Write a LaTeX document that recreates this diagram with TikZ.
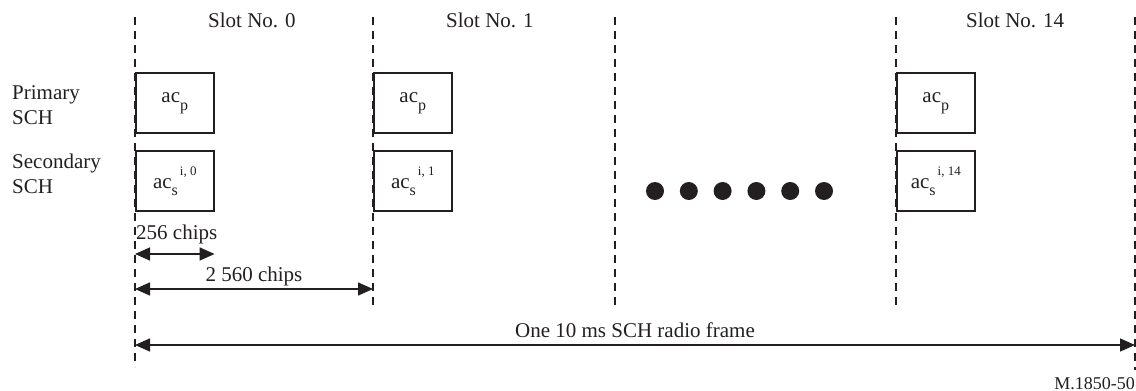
\documentclass[tikz,border=0pt]{standalone}
\usepackage{fontspec}
\setmainfont{Liberation Serif}
\usepackage{tikz}
\usetikzlibrary{arrows.meta,positioning}
\definecolor{ink}{RGB}{35,31,32}
\newcommand{\acp}{ac\raisebox{-8pt}{\fontsize{16}{16}\selectfont p}}
\newcommand{\acs}[1]{ac\raisebox{-7pt}{\fontsize{16}{16}\selectfont s}\hspace{2pt}\raisebox{13pt}{\fontsize{13}{13}\selectfont i, #1}}

\begin{document}
\begin{tikzpicture}[x=1pt,y=-1pt,
  every node/.style={text=ink,font=\fontsize{21}{25}\selectfont,inner sep=0pt},
  slotline/.style={ink,line width=1.3pt,dash pattern=on 8pt off 6pt},
  chbox/.style={draw=ink,line width=1.6pt,minimum width=78pt,minimum height=60pt,anchor=north west},
  dimarrow/.style={ink,line width=1.5pt,{Triangle[length=15pt,width=13pt]}-{Triangle[length=15pt,width=13pt]}}]
  \useasboundingbox (0,0) rectangle (1136,391);

  \coordinate (t0) at (135,17);   \coordinate (b0) at (135,367);
  \coordinate (t1) at (373,17);   \coordinate (b1) at (373,307);
  \coordinate (tm) at (615,17);   \coordinate (bm) at (615,308);
  \coordinate (t14) at (896,17);  \coordinate (b14) at (896,308);
  \coordinate (te) at (1135,17);  \coordinate (be) at (1135,370);
  \draw[slotline] (t0) -- (b0);
  \draw[slotline] (t1) -- (b1);
  \draw[slotline] (tm) -- (bm);
  \draw[slotline] (t14) -- (b14);
  \draw[slotline] (te) -- (be);

  \node[anchor=base west] (n0) at (208,27) {Slot No. 0};
  \node[anchor=base west] (n1) at (446,27) {Slot No. 1};
  \node[anchor=base west] (n14) at (966,27) {Slot No. 14};

  \node[anchor=north west,align=left] (prim) at (12,85) {Primary\\SCH};
  \node[anchor=north west,align=left] (sec) at (12,154) {Secondary\\SCH};

  \node[chbox] (p0) at (135,72) {\acp};
  \node[chbox] (s0) at (135,150) {\acs{0}};
  \node[chbox] (p1) at (373,72) {\acp};
  \node[chbox] (s1) at (373,150) {\acs{1}};
  \node[chbox] (p14) at (896,72) {\acp};
  \node[chbox] (s14) at (896,150) {\acs{14}};

  \foreach \i in {0,...,5}
    \fill[ink] (655+33.8*\i,191) circle (9pt);

  \coordinate (c256) at (135,254);
  \coordinate (c2560) at (135,289);
  \coordinate (cframe) at (135,345);
  \draw[dimarrow] (c256) -- (c256 -| p0.east);
  \node[above right=9.5pt and 1pt of c256] (l256) {256 chips};
  \draw[dimarrow] (c2560) -- (c2560 -| t1) node[midway,above=2.5pt] (l2560) {2 560 chips};
  \draw[dimarrow] (cframe) -- (cframe -| te) node[midway,above=7pt] (lframe) {One 10 ms SCH radio frame};

  \node[anchor=base east,font=\fontsize{18}{20}\selectfont] (fig) at (1135,389) {M.1850-50};
\end{tikzpicture}
\end{document}
